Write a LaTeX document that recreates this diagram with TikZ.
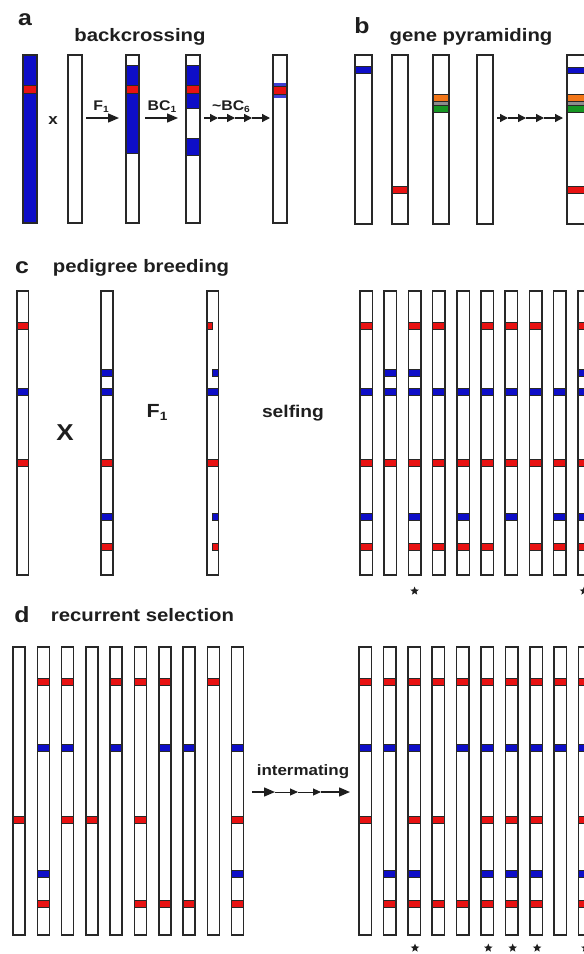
\documentclass[tikz,border=0pt]{standalone}
\usepackage{fontspec}
\setmainfont{Liberation Sans}[FakeStretch=1.13]
\usetikzlibrary{arrows.meta,shapes.geometric}
\definecolor{cred}{RGB}{232,18,18}
\definecolor{cblue}{RGB}{14,14,200}
\definecolor{corange}{RGB}{242,118,24}
\definecolor{cgreen}{RGB}{22,150,34}
\definecolor{cgray}{RGB}{140,140,140}
\definecolor{cline}{RGB}{40,40,40}
\definecolor{ctext}{RGB}{30,30,30}
\tikzset{
  chrom/.style={draw=cline, line width=1.5pt},
  band/.style={draw=cline, line width=0.8pt},
  title/.style={font=\fontsize{18}{18}\selectfont\bfseries, text=ctext, inner sep=0pt, anchor=base},
  plabel/.style={font=\fontsize{22}{22}\selectfont\bfseries, text=ctext, inner sep=0pt, anchor=base},
  small/.style={font=\fontsize{14}{14}\selectfont\bfseries, text=ctext, inner sep=0pt, anchor=base},
  arr/.style={line width=1.4pt, draw=ctext, -{Triangle[length=11pt,width=9pt]}},
  sarr/.style={line width=1.3pt, draw=ctext, -{Triangle[length=8pt,width=8pt]}},
  tarr/.style={line width=1pt, draw=ctext, -{Triangle[length=8pt,width=7pt]}},
  staricon/.style={star, star points=5, star point ratio=2.3, fill=ctext, inner sep=0pt, minimum size=9pt}
}
\newcommand{\bh}{6.5}
% x-left, width, top, bottom, list of y/colour
\newcommand{\chr}[5]{%
  \fill[white] (#1,#3) rectangle ({#1+#2},#4);
  \edef\bandlist{#5}%
  \foreach \yy/\cc in \bandlist {\draw[band,fill=\cc] (#1,{\yy-\bh/2}) rectangle ({#1+#2},{\yy+\bh/2});}
  \draw[chrom] (#1,#3) rectangle ({#1+#2},#4);}
\newcommand{\chrempty}[4]{\draw[chrom,fill=white] (#1,#3) rectangle ({#1+#2},#4);}
\newcommand{\subs}[1]{\raisebox{-0.35ex}{\fontsize{9}{9}\selectfont #1}}
\newcommand{\subL}[1]{\raisebox{-0.35ex}{\fontsize{12}{12}\selectfont #1}}
\begin{document}
\begin{tikzpicture}[x=1pt,y=-1pt]
\useasboundingbox (0,0) rectangle (584,954);
\clip (0,0) rectangle (584,954);
\fill[white] (0,0) rectangle (584,954);

% ---------------- panel a ----------------
\node[plabel] (la) at (25,25) {a};
\node[title] (ta) at (140,41.5) {backcrossing};
% chr a1 (donor, blue)
\draw[chrom,fill=cblue] (23,55) rectangle (37,223);
\draw[band,fill=cred] (23,85) rectangle (37,93);
\draw[chrom] (23,55) rectangle (37,223);
\node[small,font=\fontsize{15}{15}\selectfont\bfseries] (ax) at (53,124) {x};
% chr a2
\chrempty{68}{14}{55}{223}
% chr a3
\fill[white] (126,55) rectangle (139,223);
\draw[band,fill=cblue] (126,65) rectangle (139,153);
\draw[band,fill=cred] (126,85) rectangle (139,93);
\draw[chrom] (126,55) rectangle (139,223);
% chr a4
\fill[white] (186,55) rectangle (200,223);
\draw[band,fill=cblue] (186,65) rectangle (200,108);
\draw[band,fill=cblue] (186,138) rectangle (200,155);
\draw[band,fill=cred] (186,85) rectangle (200,93);
\draw[chrom] (186,55) rectangle (200,223);
% chr a5
\fill[white] (273,55) rectangle (287,223);
\fill[cblue!80] (273,83) rectangle (287,98);
\draw[band,fill=cred] (273,86.5) rectangle (287,94.5);
\draw[chrom] (273,55) rectangle (287,223);
% arrows
\coordinate (aF1s) at (86,118); \coordinate (aF1e) at (119,118);
\draw[arr] (aF1s) -- (aF1e);
\node[small] (aF1) at (101,110) {F\subs{1}};
\coordinate (aBCs) at (145,118); \coordinate (aBCe) at (178,118);
\draw[arr] (aBCs) -- (aBCe);
\node[small] (aBC) at (162,110) {BC\subs{1}};
\coordinate (ad0) at (204,118); \coordinate (ad1) at (218,118);
\coordinate (ad2) at (235,118); \coordinate (ad3) at (252,118);
\coordinate (ad4) at (270,118);
\draw[sarr] (ad0) -- (ad1); \draw[sarr] (ad1) -- (ad2);
\draw[sarr] (ad2) -- (ad3); \draw[sarr] (ad3) -- (ad4);
\node[small] (aBC6) at (231,110) {\textasciitilde BC\subs{6}};

% ---------------- panel b ----------------
\node[plabel] (lb) at (362,33) {b};
\node[title] (tb) at (471,41.5) {gene pyramiding};
\renewcommand{\bh}{7}
\chr{355}{17}{55}{224}{70/cblue}
\chr{392}{16}{55}{224}{189.5/cred}
\fill[white] (433,55) rectangle (449,224);
\draw[band,fill=corange] (433,94) rectangle (449,101);
\draw[band,fill=cgray] (433,101) rectangle (449,105);
\draw[band,fill=cgreen] (433,105) rectangle (449,112);
\draw[chrom] (433,55) rectangle (449,224);
\chrempty{477}{16}{55}{224}
\fill[white] (567,55) rectangle (585,224);
\draw[band,fill=cblue] (567,67) rectangle (585,73);
\draw[band,fill=corange] (567,94) rectangle (585,101);
\draw[band,fill=cgray] (567,101) rectangle (585,105);
\draw[band,fill=cgreen] (567,105) rectangle (585,112);
\draw[band,fill=cred] (567,186) rectangle (585,193);
\draw[chrom] (567,55) rectangle (585,224);
\coordinate (bd0) at (497,118); \coordinate (bd1) at (508,118);
\coordinate (bd2) at (526,118); \coordinate (bd3) at (544,118);
\coordinate (bd4) at (563,118);
\draw[sarr] (bd0) -- (bd1); \draw[sarr] (bd1) -- (bd2);
\draw[sarr] (bd2) -- (bd3); \draw[sarr] (bd3) -- (bd4);

% ---------------- panel c ----------------
\renewcommand{\bh}{6.5}
\node[plabel] (lc) at (22,273) {c};
\node[title] (tc) at (141,272) {pedigree breeding};
\chr{17}{11.5}{291}{575}{326/cred,392/cblue,463/cred}
\node[small,font=\fontsize{23}{23}\selectfont\bfseries] (cX) at (65,440) {X};
\chr{101}{12}{291}{575}{373/cblue,392/cblue,463/cred,517/cblue,547/cred}
\node[small,font=\fontsize{19}{19}\selectfont\bfseries] (cF1) at (157,417) {F\subL{1}};
% F1 chromosome with half bands
\fill[white] (207,291) rectangle (218.5,575);
\draw[band,fill=cred] (207,{326-\bh/2}) rectangle (212.7,{326+\bh/2});
\draw[band,fill=cblue] (212.7,{373-\bh/2}) rectangle (218.5,{373+\bh/2});
\draw[band,fill=cblue] (207,{392-\bh/2}) rectangle (218.5,{392+\bh/2});
\draw[band,fill=cred] (207,{463-\bh/2}) rectangle (218.5,{463+\bh/2});
\draw[band,fill=cblue] (212.7,{517-\bh/2}) rectangle (218.5,{517+\bh/2});
\draw[band,fill=cred] (212.7,{547-\bh/2}) rectangle (218.5,{547+\bh/2});
\draw[chrom] (207,291) rectangle (218.5,575);
\node[title,font=\fontsize{17}{17}\selectfont\bfseries] (cself) at (293,417) {selfing};
% selfed progeny
\foreach \i/\bl in {
  0/{326/cred,392/cblue,463/cred,517/cblue,547/cred},
  1/{373/cblue,392/cblue,463/cred},
  2/{326/cred,373/cblue,392/cblue,463/cred,517/cblue,547/cred},
  3/{326/cred,392/cblue,463/cred,547/cred},
  4/{392/cblue,463/cred,517/cblue,547/cred},
  5/{326/cred,392/cblue,463/cred,547/cred},
  6/{326/cred,392/cblue,463/cred,517/cblue},
  7/{326/cred,392/cblue,463/cred,547/cred},
  8/{392/cblue,463/cred,517/cblue,547/cred},
  9/{326/cred,373/cblue,392/cblue,463/cred,517/cblue,547/cred}} {
  \pgfmathsetmacro{\xx}{360+24.2*\i}
  \chr{\xx}{12.5}{291}{575}{\bl}
}
\node[staricon] (cs1) at (414.6,591) {};
\node[staricon] (cs2) at (584,591) {};

% ---------------- panel d ----------------
\node[plabel] (ld) at (22,622) {d};
\node[title] (td) at (142.5,621) {recurrent selection};
\foreach \i/\bl in {
  0/{820/cred},
  1/{682/cred,748/cblue,874/cblue,904/cred},
  2/{682/cred,748/cblue,820/cred},
  3/{820/cred},
  4/{682/cred,748/cblue},
  5/{682/cred,820/cred,904/cred},
  6/{682/cred,748/cblue,904/cred},
  7/{748/cblue,904/cred},
  8/{682/cred},
  9/{748/cblue,820/cred,874/cblue,904/cred}} {
  \pgfmathsetmacro{\xx}{13+24.3*\i}
  \chr{\xx}{12}{647}{935}{\bl}
}
\node[title,font=\fontsize{15}{15}\selectfont\bfseries] (dint) at (303,775) {intermating};
\coordinate (dd0) at (252,792); \coordinate (dd1) at (275,792);
\coordinate (dd2) at (298,792); \coordinate (dd3) at (321,792);
\coordinate (dd4) at (350,792);
\draw[arr] (dd0) -- (dd1); \draw[tarr] (dd1) -- (dd2);
\draw[tarr] (dd2) -- (dd3); \draw[arr] (dd3) -- (dd4);
\foreach \i/\bl in {
  0/{682/cred,748/cblue,820/cred},
  1/{682/cred,748/cblue,874/cblue,904/cred},
  2/{682/cred,748/cblue,820/cred,874/cblue,904/cred},
  3/{682/cred,820/cred,904/cred},
  4/{682/cred,748/cblue,904/cred},
  5/{682/cred,748/cblue,820/cred,874/cblue,904/cred},
  6/{682/cred,748/cblue,820/cred,874/cblue,904/cred},
  7/{682/cred,748/cblue,820/cred,874/cblue,904/cred},
  8/{682/cred,748/cblue},
  9/{682/cred,748/cblue,820/cred,874/cblue,904/cred}} {
  \pgfmathsetmacro{\xx}{359+24.4*\i}
  \chr{\xx}{12.5}{647}{935}{\bl}
}
\node[staricon] (ds1) at (415,948) {};
\node[staricon] (ds2) at (488.3,948) {};
\node[staricon] (ds3) at (512.7,948) {};
\node[staricon] (ds4) at (537.1,948) {};
\node[staricon] (ds5) at (585.5,948) {};
\end{tikzpicture}
\end{document}
